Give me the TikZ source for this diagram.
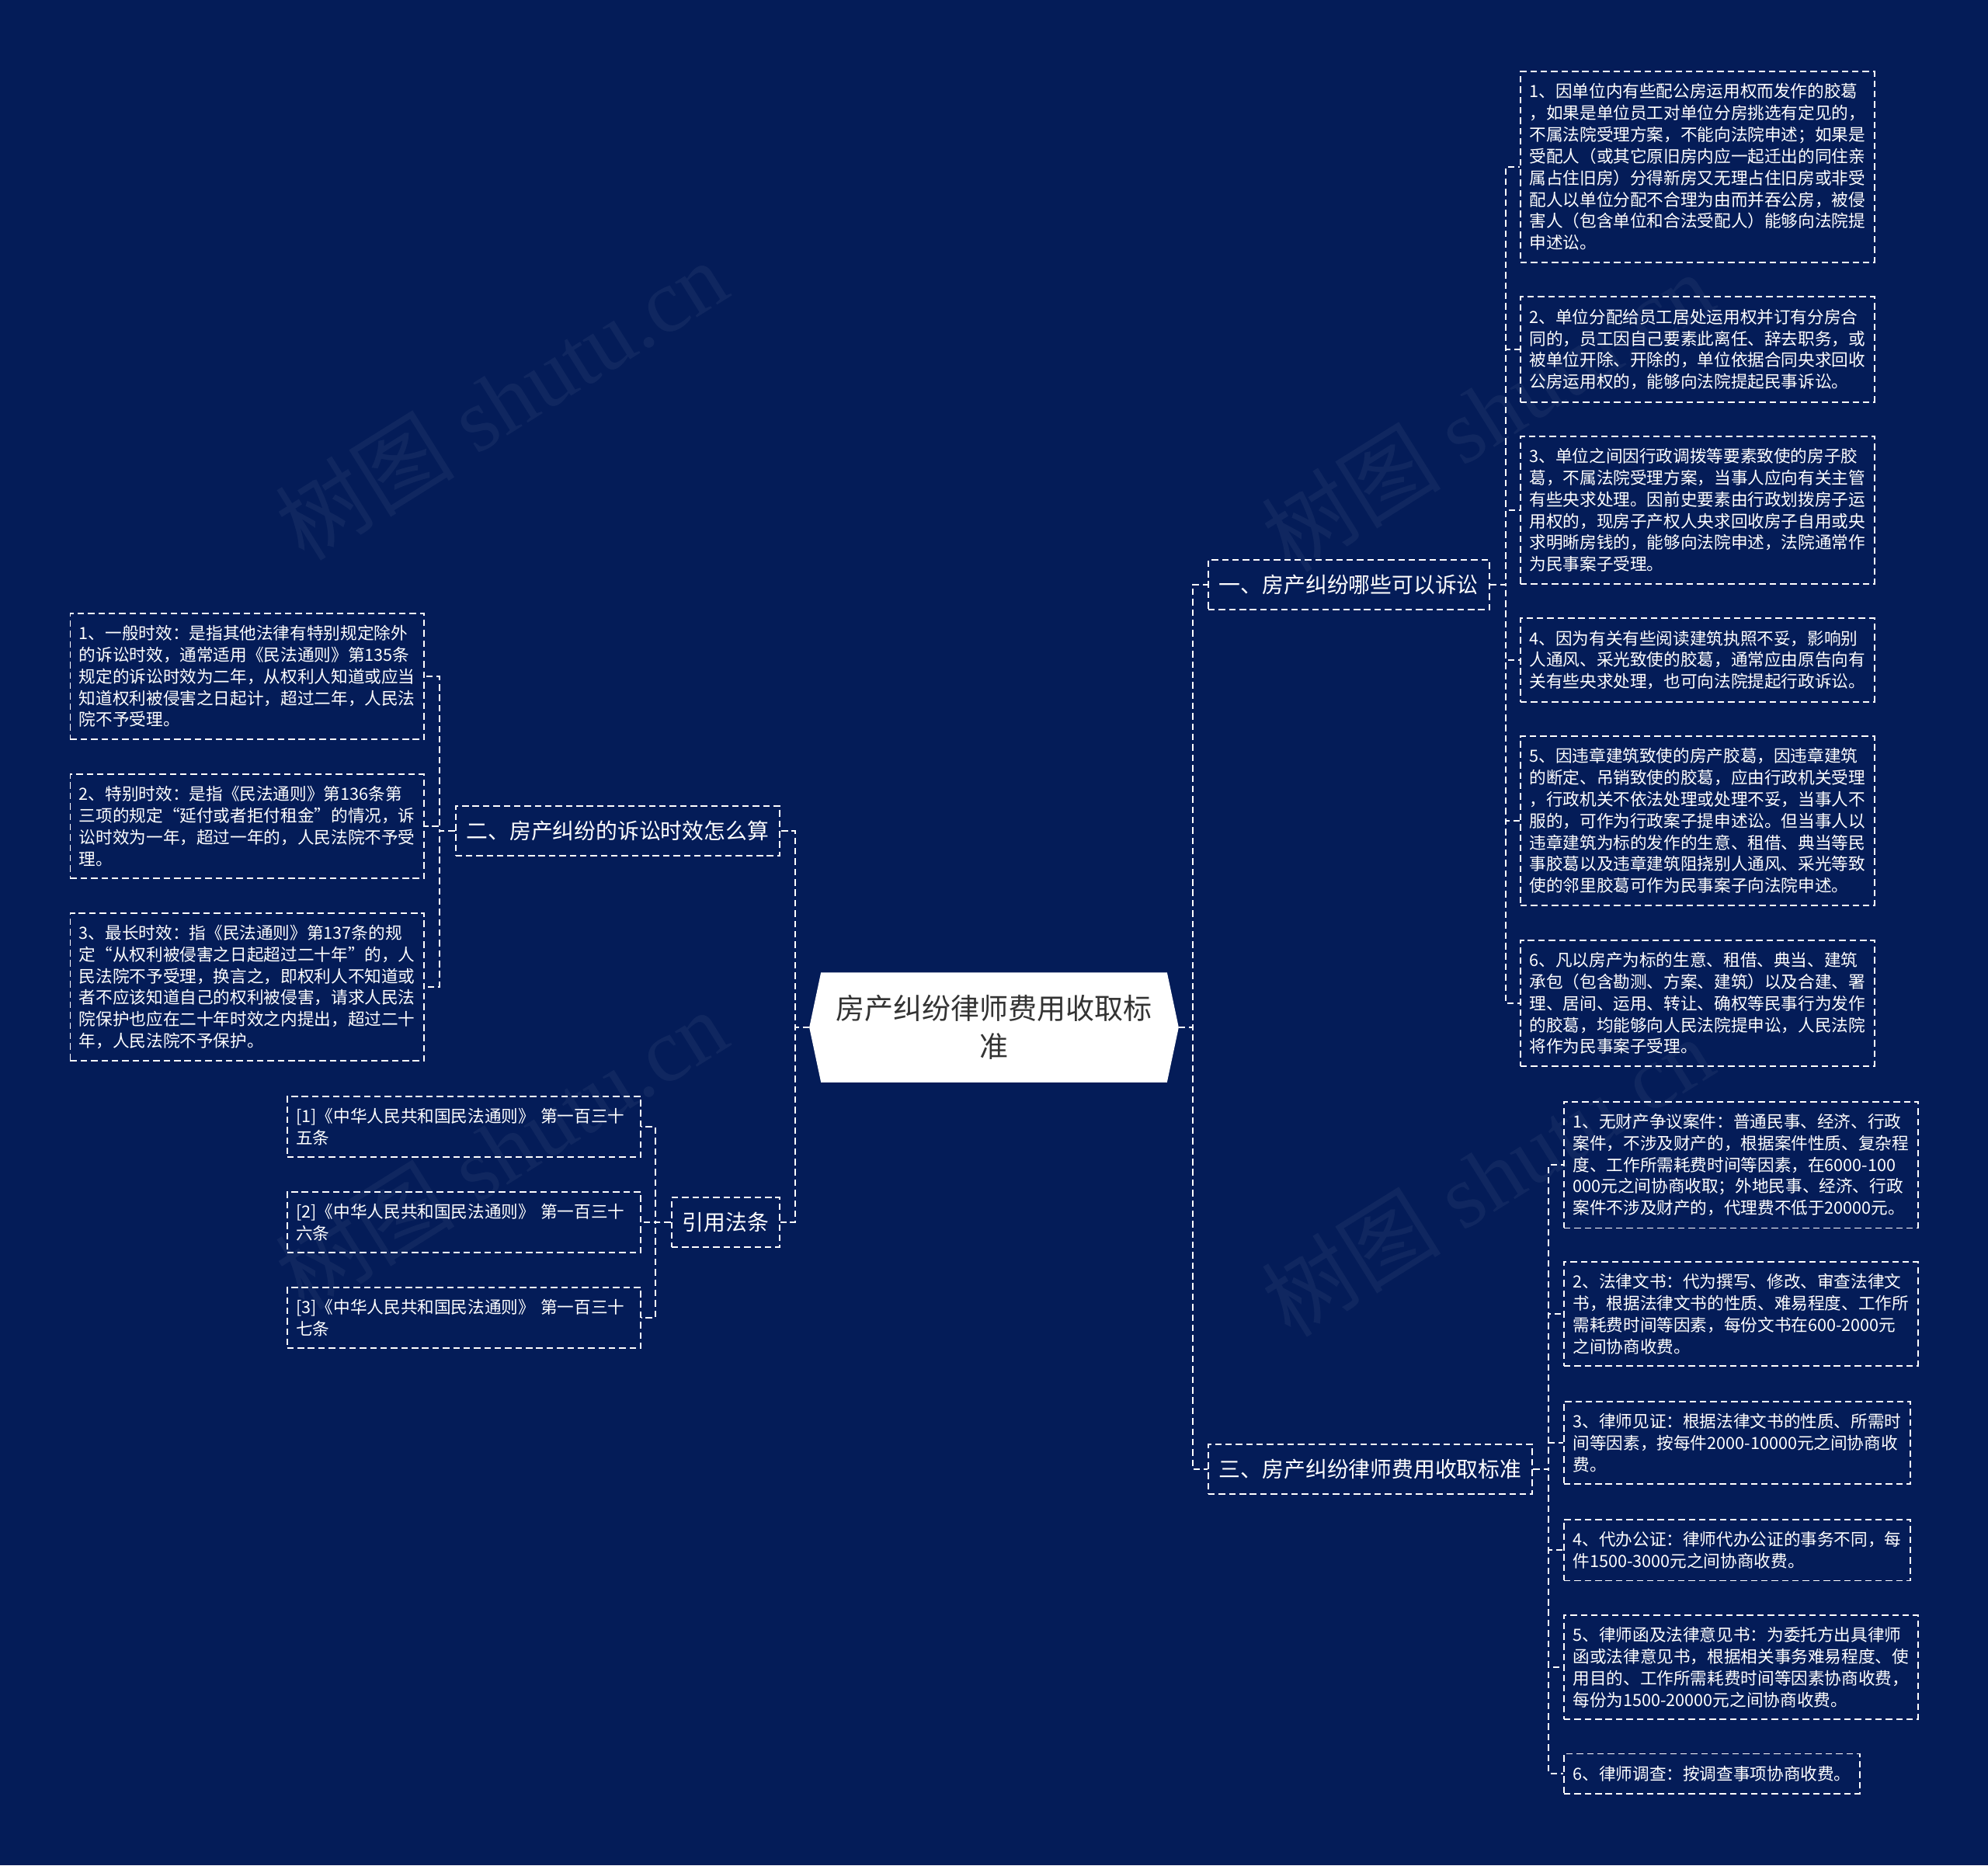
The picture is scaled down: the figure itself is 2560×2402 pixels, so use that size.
\documentclass[tikz,border=0pt]{standalone}
\usepackage{fontspec}
\newfontfamily\cjk{Noto Sans CJK SC}
\newfontfamily\wmfont{Liberation Serif}
\usetikzlibrary{positioning,backgrounds,calc}
\definecolor{navy}{RGB}{4,28,88}
\definecolor{ink}{RGB}{51,51,51}

\begin{document}
\begin{tikzpicture}[x=0.01cm,y=-0.01cm,
  leaf/.style={draw=white,line width=0.55pt,dash pattern=on 2.4pt off 1.4pt,text=white,
    font=\cjk\fontsize{6.15}{7.91}\selectfont,align=left,inner xsep=0.115cm,inner ysep=0.155cm},
  topic/.style={draw=white,line width=0.55pt,dash pattern=on 2.4pt off 1.4pt,text=white,
    font=\cjk\fontsize{7.91}{9.5}\selectfont,inner xsep=0.14cm,inner ysep=0pt,minimum height=0.64cm},
  link/.style={draw=white,line width=0.55pt,dash pattern=on 2.4pt off 1.4pt},
  wmark/.style={text=white,opacity=0.05,rotate=32,font=\wmfont\fontsize{33}{35}\selectfont}]
  \useasboundingbox (0,0) rectangle (2560,2402);

  % centre
  \node[font=\cjk\fontsize{10.53}{13.94}\selectfont,text=ink,align=center,
    minimum width=4.74cm,minimum height=1.40cm,inner sep=0pt] (root) at (1280,1323)
    {房产纠纷律师费用收取标\\准};

  % branches
  \node[topic,anchor=west] (s1) at (1555,753) {一、房产纠纷哪些可以诉讼};
  \node[topic,anchor=east] (s2) at (1005,1070) {二、房产纠纷的诉讼时效怎么算};
  \node[topic,anchor=west] (s3) at (1555,1892) {三、房产纠纷律师费用收取标准};
  \node[topic,anchor=east] (s4) at (1005,1574) {引用法条};

  % 一
  \node[leaf,anchor=west] (c1) at (1957,215) {1、因单位内有些配公房运用权而发作的胶葛\\，如果是单位员工对单位分房挑选有定见的，\\不属法院受理方案，不能向法院申述；如果是\\受配人（或其它原旧房内应一起迁出的同住亲\\属占住旧房）分得新房又无理占住旧房或非受\\配人以单位分配不合理为由而并吞公房，被侵\\害人（包含单位和合法受配人）能够向法院提\\申述讼。};
  \node[leaf,anchor=west] (c2) at (1957,450) {2、单位分配给员工居处运用权并订有分房合\\同的，员工因自己要素此离任、辞去职务，或\\被单位开除、开除的，单位依据合同央求回收\\公房运用权的，能够向法院提起民事诉讼。};
  \node[leaf,anchor=west] (c3) at (1957,657) {3、单位之间因行政调拨等要素致使的房子胶\\葛，不属法院受理方案，当事人应向有关主管\\有些央求处理。因前史要素由行政划拨房子运\\用权的，现房子产权人央求回收房子自用或央\\求明晰房钱的，能够向法院申述，法院通常作\\为民事案子受理。};
  \node[leaf,anchor=west] (c4) at (1957,850) {4、因为有关有些阅读建筑执照不妥，影响别\\人通风、采光致使的胶葛，通常应由原告向有\\关有些央求处理，也可向法院提起行政诉讼。};
  \node[leaf,anchor=west] (c5) at (1957,1057) {5、因违章建筑致使的房产胶葛，因违章建筑\\的断定、吊销致使的胶葛，应由行政机关受理\\，行政机关不依法处理或处理不妥，当事人不\\服的，可作为行政案子提申述讼。但当事人以\\违章建筑为标的发作的生意、租借、典当等民\\事胶葛以及违章建筑阻挠别人通风、采光等致\\使的邻里胶葛可作为民事案子向法院申述。};
  \node[leaf,anchor=west] (c6) at (1957,1292) {6、凡以房产为标的生意、租借、典当、建筑\\承包（包含勘测、方案、建筑）以及合建、署\\理、居间、运用、转让、确权等民事行为发作\\的胶葛，均能够向人民法院提申讼，人民法院\\将作为民事案子受理。};

  % 二
  \node[leaf,anchor=east] (b1) at (547,871) {1、一般时效：是指其他法律有特别规定除外\\的诉讼时效，通常适用《民法通则》第135条\\规定的诉讼时效为二年，从权利人知道或应当\\知道权利被侵害之日起计，超过二年，人民法\\院不予受理。};
  \node[leaf,anchor=east] (b2) at (547,1064) {2、特别时效：是指《民法通则》第136条第\\三项的规定“延付或者拒付租金”的情况，诉\\讼时效为一年，超过一年的，人民法院不予受\\理。};
  \node[leaf,anchor=east] (b3) at (547,1271) {3、最长时效：指《民法通则》第137条的规\\定“从权利被侵害之日起超过二十年”的，人\\民法院不予受理，换言之，即权利人不知道或\\者不应该知道自己的权利被侵害，请求人民法\\院保护也应在二十年时效之内提出，超过二十\\年，人民法院不予保护。};

  % 三
  \node[leaf,anchor=west] (d1) at (2013,1500) {1、无财产争议案件：普通民事、经济、行政\\案件，不涉及财产的，根据案件性质、复杂程\\度、工作所需耗费时间等因素，在6000-100\\000元之间协商收取；外地民事、经济、行政\\案件不涉及财产的，代理费不低于20000元。};
  \node[leaf,anchor=west] (d2) at (2013,1692) {2、法律文书：代为撰写、修改、审查法律文\\书，根据法律文书的性质、难易程度、工作所\\需耗费时间等因素，每份文书在600-2000元\\之间协商收费。};
  \node[leaf,anchor=west] (d3) at (2013,1858) {3、律师见证：根据法律文书的性质、所需时\\间等因素，按每件2000-10000元之间协商收\\费。};
  \node[leaf,anchor=west] (d4) at (2013,1996) {4、代办公证：律师代办公证的事务不同，每\\件1500-3000元之间协商收费。};
  \node[leaf,anchor=west] (d5) at (2013,2147) {5、律师函及法律意见书：为委托方出具律师\\函或法律意见书，根据相关事务难易程度、使\\用目的、工作所需耗费时间等因素协商收费，\\每份为1500-20000元之间协商收费。};
  \node[leaf,anchor=west] (d6) at (2013,2284) {6、律师调查：按调查事项协商收费。};

  % 引用法条
  \node[leaf,anchor=east,text width=4.32cm] (r1) at (826,1451) {[1]《中华人民共和国民法通则》 第一百三十\\五条};
  \node[leaf,anchor=east,text width=4.32cm] (r2) at (826,1574) {[2]《中华人民共和国民法通则》 第一百三十\\六条};
  \node[leaf,anchor=east,text width=4.32cm] (r3) at (826,1697) {[3]《中华人民共和国民法通则》 第一百三十\\七条};

  % connectors
  \foreach \t in {s1,s3}{\draw[link] (root.east) -- ++(18,0) |- (\t.west);}
  \foreach \t in {s2,s4}{\draw[link] (root.west) -- ++(-18,0) |- (\t.east);}
  \foreach \t in {c1,c2,c3,c4,c5,c6}{\draw[link] (s1.east) -- ++(20,0) |- (\t.west);}
  \foreach \t in {d1,d2,d3,d4,d5,d6}{\draw[link] (s3.east) -- ++(20,0) |- (\t.west);}
  \foreach \t in {b1,b2,b3}{\draw[link] (s2.west) -- ++(-20,0) |- (\t.east);}
  \foreach \t in {r1,r2,r3}{\draw[link] (s4.west) -- ++(-20,0) |- (\t.east);}

  % watermark
  \node[wmark] (wm1) at (645,515) {{\cjk 树图} shutu.cn};
  \node[wmark] (wm2) at (1915,530) {{\cjk 树图} shutu.cn};
  \node[wmark] (wm3) at (645,1480) {{\cjk 树图} shutu.cn};
  \node[wmark] (wm4) at (1915,1515) {{\cjk 树图} shutu.cn};

  \begin{scope}[on background layer]
    \fill[navy] (0,0) rectangle (2560,2402);
    \fill[white] (root.west) -- ($(root.north west)+(15,0)$) -- ($(root.north east)+(-15,0)$)
      -- (root.east) -- ($(root.south east)+(-15,0)$) -- ($(root.south west)+(15,0)$) -- cycle;
  \end{scope}
\end{tikzpicture}
\end{document}
